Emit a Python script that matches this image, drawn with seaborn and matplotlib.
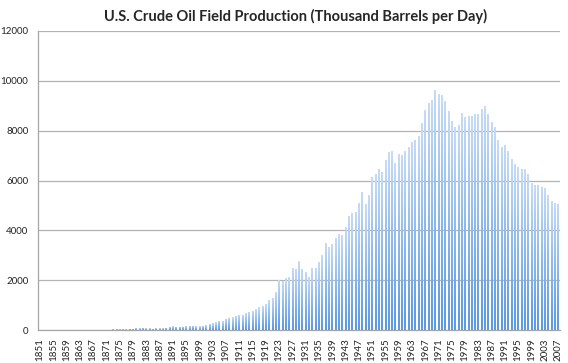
import numpy as np
import pandas as pd
import matplotlib
matplotlib.use("Agg")
import matplotlib.pyplot as plt
import seaborn as sns

# ── Data (thousand barrels per day) ──────────────────────────────────
YEARS = list(range(1851, 2008))
PRODUCTION = [
    0, 0, 0, 0, 0, 0, 0, 0, 0, 1,                 # 1851-1860
    6, 8, 7, 6, 7, 10, 9, 10, 12, 14,             # 1861-1870
    14, 17, 27, 30, 34, 25, 37, 42, 55, 72,       # 1871-1880
    76, 83, 64, 66, 60, 77, 78, 76, 96, 125,      # 1881-1890
    148, 138, 133, 135, 145, 166, 166, 152, 156, 174,    # 1891-1900
    190, 243, 275, 321, 369, 346, 456, 489, 502, 574,    # 1901-1910
    604, 610, 680, 727, 770, 824, 917, 975, 1034, 1214,  # 1911-1920
    1294, 1531, 2007, 1956, 2092, 2112, 2469, 2464, 2760, 2460,  # 1921-1930
    2332, 2145, 2483, 2488, 2730, 3007, 3505, 3327, 3466, 3707,  # 1931-1940
    3842, 3799, 4125, 4584, 4695, 4751, 5088, 5520, 5046, 5407,  # 1941-1950
    6158, 6256, 6458, 6342, 6807, 7151, 7170, 6710, 7054, 7035,  # 1951-1960
    7183, 7332, 7542, 7614, 7804, 8295, 8810, 9096, 9238, 9637,  # 1961-1970
    9463, 9441, 9208, 8774, 8375, 8132, 8245, 8707, 8552, 8597,  # 1971-1980
    8572, 8649, 8688, 8879, 8971, 8680, 8349, 8140, 7613, 7355,  # 1981-1990
    7417, 7171, 6847, 6662, 6560, 6465, 6452, 6252, 5881, 5822,  # 1991-2000
    5801, 5746, 5681, 5419, 5178, 5102, 5064,                    # 2001-2007
]
TITLE = "U.S. Crude Oil Field Production (Thousand Barrels per Day)"
Y_TICKS = [0, 2000, 4000, 6000, 8000, 10000, 12000]

df = pd.DataFrame({"year": [str(y) for y in YEARS], "kbpd": PRODUCTION})

# ── Plot ──────────────────────────────────────────────────────────────
sns.set_style("white")
plt.rcParams["font.family"] = ["Lato", "DejaVu Sans"]

fig = plt.figure(figsize=(5.68, 3.63), dpi=100)
ax = fig.add_axes([38 / 568, 1 - 330 / 363, 522 / 568, 299 / 363])

sns.barplot(data=df, x="year", y="kbpd", color="#6a9fdc", width=0.5,
            saturation=1, ax=ax, zorder=2)

# per-bar vertical gradient, darker at the base like the Excel fill
grad = np.linspace(0, 1, 64).reshape(-1, 1)
cmap = matplotlib.colors.LinearSegmentedColormap.from_list(
    "bar", ["#5d98e2", "#8fb9ec", "#c6dbf5"])
for p in ax.patches:
    x0, w, h = p.get_x(), p.get_width(), p.get_height()
    if h <= 0:
        continue
    p.set_facecolor("none")
    p.set_edgecolor("none")
    im = ax.imshow(grad, cmap=cmap, origin="lower", aspect="auto",
                   extent=[x0, x0 + w, 0, h], zorder=2)
    im.set_clip_path(p)

ax.set_xlim(-0.6, len(YEARS) - 0.4)
ax.set_ylim(0, 12000)
ax.set_yticks(Y_TICKS)
ax.set_yticklabels([str(t) for t in Y_TICKS], fontsize=7, color="#222222")

ax.set_xticks(range(0, len(YEARS), 4))
ax.set_xticklabels(YEARS[::4], rotation=90, fontsize=7, color="#222222")
ax.set_xticks([i + 0.5 for i in range(-1, len(YEARS))], minor=True)
ax.tick_params(axis="x", which="major", length=0, pad=6)
ax.tick_params(axis="x", which="minor", length=3, color="#a6a6a6", width=0.6,
               direction="out")
ax.tick_params(axis="y", length=4, color="#a6a6a6", width=0.8, pad=3)

ax.grid(axis="y", color="#b3b3b3", linewidth=0.9, zorder=0)
ax.set_axisbelow(True)
for side in ["top", "right"]:
    ax.spines[side].set_visible(False)
for side in ["left", "bottom"]:
    ax.spines[side].set_color("#a6a6a6")
    ax.spines[side].set_linewidth(0.9)

ax.set_xlabel("")
ax.set_ylabel("")
fig.suptitle(TITLE, x=0.52, y=0.975, fontsize=10.5, fontweight="bold")

fig.savefig("out.png", dpi=100)
